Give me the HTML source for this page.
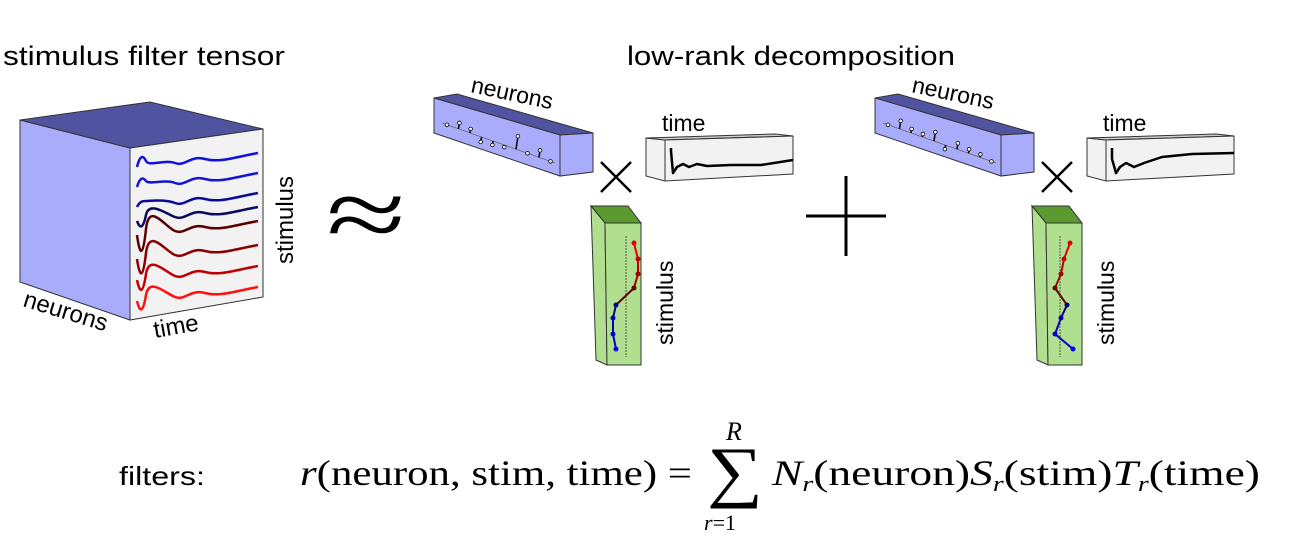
<!DOCTYPE html>
<html><head><meta charset="utf-8"><style>
html,body{margin:0;padding:0;background:#fff;width:1294px;height:536px;overflow:hidden}
svg{display:block}
.sans{font-family:"Liberation Sans",sans-serif}
.serif{font-family:"Liberation Serif",serif}
</style></head><body>
<svg width="1294" height="536" viewBox="0 0 1294 536">
<text class="sans" x="3" y="65" font-size="27" textLength="282" lengthAdjust="spacingAndGlyphs" fill="#000">stimulus filter tensor</text>
<text class="sans" x="627" y="65" font-size="27" textLength="328" lengthAdjust="spacingAndGlyphs" fill="#000">low-rank decomposition</text>

<g stroke="#333" stroke-width="1">
<polygon points="20,120 130,148 130,320 20,282" fill="#a9acfb"/>
<polygon points="20,120 150,102 263,129 130,148" fill="#5053a0"/>
<polygon points="130,148 263,129 263,297 130,320" fill="#f2f2f2"/>
</g>
<g id="traces" fill="none" stroke-width="2.5"></g>
<text class="sans" font-size="24" transform="translate(293,264) rotate(-90)">stimulus</text>
<text class="sans" font-size="24" transform="translate(22,306) rotate(17)">neurons</text>
<text class="sans" font-size="24" transform="translate(155,338) rotate(-10)">time</text>

<text class="serif" x="326" y="248" font-size="100" textLength="80" lengthAdjust="spacingAndGlyphs">≈</text>

<g id="comp1"></g>
<g id="comp2" transform="translate(441,0)"></g>

<g stroke="#000" stroke-width="3">
<line x1="806" y1="216" x2="886" y2="216"/><line x1="846" y1="176" x2="846" y2="256"/>
</g>

<text class="sans" x="119" y="485" font-size="26" textLength="86" lengthAdjust="spacingAndGlyphs">filters:</text>
<g class="serif" font-size="36">
<text x="300" y="485" textLength="392" lengthAdjust="spacingAndGlyphs"><tspan font-style="italic">r</tspan>(neuron, stim, time) =</text>
<text x="707" y="494" font-size="68" textLength="56" lengthAdjust="spacingAndGlyphs">∑</text>
<text x="726" y="440" font-size="26" font-style="italic">R</text>
<text x="704" y="530" font-size="22"><tspan font-style="italic">r</tspan>=1</text>
<text x="772" y="485" textLength="488" lengthAdjust="spacingAndGlyphs"><tspan font-style="italic">N</tspan><tspan font-size="22" font-style="italic" dy="6">r</tspan><tspan dy="-6">(neuron)</tspan><tspan font-style="italic">S</tspan><tspan font-size="22" font-style="italic" dy="6">r</tspan><tspan dy="-6">(stim)</tspan><tspan font-style="italic">T</tspan><tspan font-size="22" font-style="italic" dy="6">r</tspan><tspan dy="-6">(time)</tspan></text>
</g>
</svg>
<script>
const NS="http://www.w3.org/2000/svg";
function mk(tag,attrs,parent){const e=document.createElementNS(NS,tag);for(const k in attrs)e.setAttribute(k,attrs[k]);parent.appendChild(e);return e;}
const traceColors=["#1010e0","#1515d0","#0a0a9a","#0a0a60","#5a0000","#8a0000","#c00000","#ff1010"];
const traceEnd=[153,173,193,207,221,245,266,287];
const traceDip=[-12,-10,-6,8,22,20,14,12];
const tg=document.getElementById('traces');
traceColors.forEach((c,i)=>{
  const yE=traceEnd[i], yS=yE+14, d=traceDip[i];
  const p=`M137,${yS} C140,${yS+d} 143,${yS+d} 146,${yS-6} S165,${yS-8} 175,${yS-4} S190,${yS-12} 205,${yS-8} S235,${yE+4} 258,${yE}`;
  const e=mk('path',{d:p,stroke:c},tg);
  
  
});
const neuronVals1=[0,6,4,-5,-4,-2,13,0,7,0];
const neuronVals2=[0,8,4,3,9,-4,6,4,3,0];
const timeCurve1=[[0,-14],[2,8],[6,2],[12,-1],[18,2],[26,-1],[36,1],[60,0],[90,0],[122,-5]];
const timeCurve2=[[0,-6],[4,8],[8,2],[14,-2],[22,2],[32,-2],[50,-8],[80,-11],[122,-12]];
const stimX1=[634,638,638,634,616,613,613,616];
const stimX2=[629,623,620,614,626,620,614,632];
const stimY=[243,259,274,288,305,318,334,349];
const stimCol=["#e00000","#c00000","#a00000","#600000","#000080","#0000b0","#0000d0","#0000ff"];
function comp(g,nv,tc,sx,dotX){
  let e;
  e=mk('polygon',{points:"434,98 457,94 593,133 560,135",fill:"#5053a0",stroke:"#333"},g);
  
  e=mk('polygon',{points:"434,98 560,135 560,176 434,133",fill:"#a9acfb",stroke:"#333"},g);
  
  mk('polygon',{points:"560,135 593,133 593,172 560,176",fill:"#a9acfb",stroke:"#333"},g);
  mk('line',{x1:442,y1:123,x2:555,y2:163,stroke:"#666","stroke-width":0.8},g);
  nv.forEach((v,i)=>{const x=447+i*11.5,y=123+(x-442)*0.354;
    mk('line',{x1:x,y1:y,x2:x+v*0.15,y2:y-v,stroke:"#000","stroke-width":1.5},g);
    const c=mk('circle',{cx:x+v*0.15,cy:y-v,r:1.8,fill:"#fff",stroke:"#000","stroke-width":0.8},g);
    });
  const t=mk('text',{x:0,y:0,"font-size":23,transform:"translate(470,92) rotate(12)"},g);
  t.setAttribute('class','sans');t.textContent='neurons';
  mk('polygon',{points:"646,138 665,140 665,181 646,176",fill:"#f2f2f2",stroke:"#333"},g);
  mk('polygon',{points:"646,138 775,134 793,136 665,140",fill:"#ccc",stroke:"#333"},g);
  e=mk('polygon',{points:"665,140 793,136 793,174 665,181",fill:"#f2f2f2",stroke:"#333"},g);
  
  const tt=mk('text',{x:662,y:131,"font-size":23},g);tt.setAttribute('class','sans');tt.textContent='time';
  const pts=tc.map(p=>`${671+p[0]},${165+p[1]}`).join(' ');
  e=mk('polyline',{points:`671,148 ${pts}`,fill:"none",stroke:"#000","stroke-width":2.5,"stroke-linejoin":"round"},g);
  
  mk('line',{x1:601,y1:162,x2:631,y2:192,stroke:"#000","stroke-width":2.5},g);
  mk('line',{x1:631,y1:162,x2:601,y2:192,stroke:"#000","stroke-width":2.5},g);
  mk('polygon',{points:"591,206 628,206 641,223 605,223",fill:"#5a9a2f",stroke:"#333"},g);
  mk('polygon',{points:"591,206 605,223 607,365 596,360",fill:"#b0e08f",stroke:"#333"},g);
  e=mk('polygon',{points:"605,223 641,223 641,365 607,365",fill:"#b0e08f",stroke:"#333"},g);
  
  mk('line',{x1:dotX,y1:236,x2:dotX,y2:357,stroke:"#555","stroke-dasharray":"2,1"},g);
  for(let i=0;i<sx.length-1;i++)mk('line',{x1:sx[i],y1:stimY[i],x2:sx[i+1],y2:stimY[i+1],stroke:stimCol[i],"stroke-width":2},g);
  sx.forEach((x,i)=>{const c=mk('circle',{cx:x,cy:stimY[i],r:2.5,fill:stimCol[i]},g);
    });
  const st=mk('text',{"font-size":23,transform:"translate(673,345) rotate(-90)"},g);st.setAttribute('class','sans');st.textContent='stimulus';
}
comp(document.getElementById('comp1'),neuronVals1,timeCurve1,stimX1,626);
comp(document.getElementById('comp2'),neuronVals2,timeCurve2,stimX2,619);
</script>
</body></html>
